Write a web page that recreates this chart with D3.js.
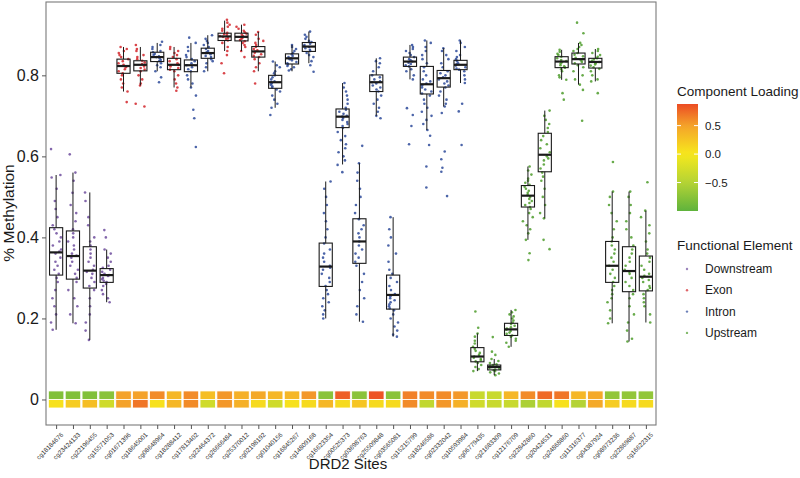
<!DOCTYPE html>
<html>
<head>
<meta charset="utf-8">
<script src="https://cdn.jsdelivr.net/npm/d3@7"></script>
<style>
  body { margin: 0; background: #fff; }
  svg { font-family: "Liberation Sans", Arial, sans-serif; }
</style>
</head>
<body>
<script>
// ---- data ----
const sites = ["cg18184676","cg23424133","cg22196455","cg15571053","cg01671396","cg18645001",
  "cg08648964","cg18288412","cg17813402","cg22464372","cg26666484","cg25370012","cg02198192",
  "cg01040156","cg16845267","cg14809168","cg16623354","cg00525373","cg03698763","cg25509848",
  "cg03565081","cg15215799","cg18246586","cg02332042","cg10593984","cg06779435","cg21683309",
  "cg12176709","cg22842860","cg20424531","cg24868860","cg11316377","cg04387924","cg08973236",
  "cg22869887","cg16622315"];

const siteElement = ["Downstream","Downstream","Downstream","Downstream","Exon","Exon",
  "Intron","Exon","Intron","Intron","Exon","Exon","Exon","Intron","Intron","Intron",
  "Intron","Intron","Intron","Intron","Intron","Intron","Intron","Intron","Intron",
  "Upstream","Upstream","Upstream","Upstream","Upstream","Upstream","Upstream","Upstream",
  "Upstream","Upstream","Upstream"];

// [lower whisker, q1, median, q3, upper whisker]
const boxStats = [
  [0.172,0.307,0.363,0.424,0.554],[0.188,0.297,0.354,0.416,0.560],[0.147,0.275,0.318,0.377,0.511],
  [0.240,0.289,0.307,0.323,0.370],[0.760,0.805,0.823,0.840,0.870],[0.775,0.811,0.826,0.836,0.870],
  [0.810,0.834,0.845,0.857,0.880],[0.770,0.814,0.826,0.842,0.870],[0.770,0.809,0.825,0.838,0.880],
  [0.810,0.842,0.855,0.867,0.899],[0.860,0.886,0.896,0.904,0.935],[0.860,0.885,0.895,0.904,0.925],
  [0.810,0.845,0.859,0.871,0.907],[0.720,0.768,0.783,0.800,0.834],[0.810,0.828,0.842,0.853,0.875],
  [0.830,0.859,0.871,0.881,0.908],[0.200,0.279,0.328,0.386,0.538],[0.580,0.671,0.698,0.717,0.781],
  [0.192,0.336,0.390,0.446,0.583],[0.700,0.760,0.783,0.801,0.842],[0.155,0.223,0.258,0.307,0.450],
  [0.790,0.822,0.834,0.845,0.875],[0.665,0.754,0.778,0.822,0.886],[0.723,0.771,0.793,0.812,0.867],
  [0.781,0.814,0.826,0.837,0.886],[0.070,0.093,0.106,0.128,0.163],[0.060,0.073,0.080,0.085,0.100],
  [0.130,0.158,0.173,0.188,0.221],[0.394,0.475,0.503,0.528,0.575],[0.447,0.562,0.604,0.657,0.713],
  [0.789,0.819,0.834,0.846,0.863],[0.777,0.828,0.840,0.855,0.880],[0.785,0.818,0.833,0.842,0.865],
  [0.188,0.289,0.330,0.390,0.513],[0.143,0.266,0.317,0.377,0.513],[0.190,0.268,0.303,0.354,0.466]
];

// methylation of individual samples (approximate reading)
const sitePoints = [
  [0.618,0.554,0.548,0.52,0.49,0.47,0.45,0.43,0.42,0.41,0.40,0.39,0.38,0.37,0.365,0.36,0.35,0.34,0.33,0.32,0.31,0.30,0.29,0.27,0.25,0.23,0.21,0.19,0.172],
  [0.605,0.56,0.54,0.51,0.48,0.46,0.44,0.42,0.41,0.40,0.39,0.38,0.37,0.36,0.355,0.35,0.34,0.33,0.32,0.31,0.30,0.29,0.27,0.25,0.23,0.21,0.188],
  [0.511,0.49,0.45,0.43,0.40,0.39,0.38,0.37,0.36,0.35,0.34,0.33,0.32,0.315,0.31,0.30,0.29,0.28,0.27,0.25,0.23,0.21,0.19,0.17,0.147],
  [0.418,0.40,0.37,0.36,0.35,0.34,0.33,0.325,0.32,0.315,0.31,0.307,0.305,0.30,0.297,0.293,0.29,0.285,0.28,0.27,0.26,0.25,0.24],
  [0.87,0.865,0.86,0.855,0.85,0.845,0.84,0.835,0.83,0.826,0.823,0.82,0.815,0.81,0.805,0.80,0.79,0.78,0.77,0.76,0.734],
  [0.875,0.865,0.86,0.85,0.845,0.84,0.836,0.832,0.828,0.826,0.822,0.818,0.814,0.81,0.80,0.79,0.78,0.775,0.73,0.723],
  [0.883,0.875,0.87,0.865,0.86,0.857,0.853,0.85,0.847,0.845,0.842,0.838,0.835,0.83,0.825,0.82,0.81,0.795,0.783],
  [0.87,0.865,0.86,0.855,0.85,0.845,0.84,0.835,0.83,0.826,0.822,0.818,0.814,0.81,0.80,0.79,0.78,0.77,0.762],
  [0.893,0.88,0.87,0.86,0.85,0.845,0.84,0.835,0.83,0.825,0.82,0.815,0.81,0.80,0.79,0.78,0.77,0.75,0.715,0.694,0.623],
  [0.899,0.89,0.885,0.88,0.875,0.87,0.865,0.86,0.857,0.855,0.852,0.848,0.845,0.84,0.835,0.83,0.82,0.81],
  [0.937,0.93,0.925,0.92,0.915,0.91,0.905,0.902,0.90,0.897,0.895,0.892,0.89,0.886,0.88,0.87,0.86,0.85,0.83,0.805],
  [0.925,0.92,0.915,0.91,0.906,0.903,0.90,0.897,0.895,0.892,0.89,0.887,0.884,0.88,0.875,0.87,0.86,0.845],
  [0.907,0.90,0.89,0.885,0.88,0.875,0.87,0.865,0.862,0.859,0.856,0.852,0.848,0.845,0.84,0.83,0.82,0.81,0.78],
  [0.834,0.825,0.82,0.81,0.805,0.80,0.795,0.79,0.785,0.783,0.78,0.777,0.773,0.77,0.765,0.76,0.75,0.74,0.73,0.72,0.702],
  [0.875,0.87,0.865,0.86,0.855,0.852,0.848,0.845,0.842,0.84,0.837,0.833,0.83,0.827,0.823,0.82,0.815,0.812],
  [0.908,0.90,0.895,0.89,0.885,0.882,0.878,0.875,0.872,0.87,0.867,0.863,0.86,0.855,0.85,0.845,0.835,0.825,0.809],
  [0.538,0.52,0.50,0.48,0.46,0.44,0.42,0.40,0.385,0.37,0.36,0.35,0.34,0.33,0.325,0.32,0.31,0.30,0.29,0.28,0.27,0.26,0.25,0.24,0.23,0.22,0.21,0.20],
  [0.781,0.77,0.76,0.75,0.74,0.73,0.72,0.715,0.71,0.705,0.70,0.698,0.695,0.69,0.685,0.68,0.675,0.67,0.66,0.65,0.64,0.63,0.62,0.61,0.60,0.59,0.579,0.561],
  [0.626,0.583,0.56,0.54,0.52,0.50,0.48,0.46,0.445,0.43,0.42,0.41,0.40,0.39,0.38,0.37,0.36,0.35,0.34,0.33,0.31,0.29,0.27,0.25,0.23,0.21,0.192],
  [0.842,0.835,0.83,0.82,0.81,0.80,0.795,0.79,0.785,0.783,0.78,0.775,0.77,0.765,0.76,0.75,0.74,0.73,0.72,0.71,0.70,0.694],
  [0.45,0.42,0.40,0.38,0.36,0.34,0.32,0.31,0.30,0.29,0.28,0.27,0.26,0.255,0.25,0.245,0.24,0.235,0.23,0.225,0.22,0.21,0.20,0.19,0.18,0.17,0.16,0.155],
  [0.875,0.87,0.865,0.86,0.855,0.85,0.845,0.84,0.837,0.834,0.831,0.828,0.825,0.822,0.815,0.81,0.80,0.79,0.719,0.702,0.675,0.63],
  [0.886,0.88,0.87,0.86,0.85,0.84,0.83,0.82,0.81,0.80,0.79,0.785,0.78,0.775,0.77,0.765,0.76,0.755,0.75,0.74,0.73,0.72,0.71,0.70,0.69,0.68,0.665,0.651,0.628,0.575,0.523],
  [0.867,0.86,0.85,0.84,0.83,0.82,0.81,0.805,0.80,0.795,0.79,0.785,0.78,0.775,0.77,0.76,0.75,0.74,0.73,0.723,0.707,0.612,0.593,0.572,0.562,0.502],
  [0.886,0.88,0.87,0.86,0.85,0.845,0.84,0.835,0.83,0.827,0.824,0.82,0.817,0.814,0.81,0.80,0.79,0.781,0.73,0.711,0.628],
  [0.217,0.177,0.163,0.155,0.145,0.138,0.13,0.125,0.12,0.115,0.11,0.106,0.103,0.10,0.097,0.094,0.09,0.085,0.08,0.075,0.07],
  [0.154,0.118,0.11,0.10,0.095,0.09,0.087,0.085,0.083,0.081,0.08,0.078,0.076,0.074,0.072,0.07,0.067,0.064,0.06],
  [0.221,0.215,0.21,0.205,0.20,0.195,0.19,0.186,0.182,0.178,0.175,0.172,0.169,0.165,0.162,0.158,0.155,0.15,0.145,0.14,0.13],
  [0.575,0.565,0.555,0.545,0.54,0.535,0.53,0.525,0.52,0.515,0.51,0.505,0.50,0.495,0.49,0.485,0.48,0.475,0.47,0.46,0.45,0.44,0.43,0.42,0.41,0.394,0.361,0.344],
  [0.713,0.70,0.69,0.68,0.67,0.66,0.65,0.64,0.63,0.62,0.61,0.60,0.595,0.59,0.58,0.57,0.56,0.55,0.54,0.52,0.50,0.48,0.46,0.447,0.394,0.371],
  [0.863,0.858,0.853,0.85,0.846,0.842,0.838,0.835,0.832,0.829,0.825,0.822,0.819,0.815,0.81,0.80,0.795,0.789,0.756,0.74],
  [0.93,0.904,0.88,0.875,0.87,0.865,0.86,0.855,0.851,0.847,0.843,0.84,0.837,0.833,0.83,0.825,0.82,0.81,0.80,0.79,0.777,0.764,0.688],
  [0.865,0.86,0.855,0.85,0.846,0.842,0.839,0.836,0.833,0.83,0.827,0.824,0.82,0.816,0.81,0.80,0.79,0.785,0.756],
  [0.586,0.513,0.50,0.48,0.46,0.44,0.42,0.40,0.39,0.38,0.37,0.36,0.35,0.34,0.33,0.32,0.31,0.30,0.29,0.28,0.27,0.26,0.25,0.24,0.22,0.20,0.188],
  [0.513,0.50,0.48,0.46,0.44,0.42,0.40,0.38,0.37,0.36,0.35,0.34,0.33,0.32,0.315,0.31,0.30,0.29,0.28,0.27,0.26,0.25,0.23,0.21,0.19,0.17,0.15,0.143],
  [0.536,0.466,0.45,0.43,0.41,0.39,0.37,0.36,0.35,0.34,0.33,0.32,0.31,0.305,0.30,0.295,0.29,0.28,0.275,0.27,0.26,0.25,0.24,0.23,0.21,0.19]
];

// component loadings (top row / bottom row of the strip)
const loading1 = [-0.8,-0.8,-0.8,-0.75,0.5,0.5,0.6,0.35,0.6,0.3,0.55,0.4,0.45,0.35,0.35,0.55,-0.75,0.8,
  -0.75,0.85,-0.75,0.65,0.6,0.6,0.55,-0.35,-0.35,0.35,0.6,0.75,0.7,0.35,0.45,-0.7,-0.7,-0.7];
const loading2 = [0.05,0.2,0.3,-0.3,0.5,0.7,0.05,0.35,0.6,-0.3,0.55,0.4,0.1,-0.3,0.05,0.1,0.35,0.1,
  0.25,0.1,0.1,0.6,-0.4,0.55,0.4,-0.3,-0.35,-0.35,-0.55,-0.4,0.05,-0.5,0.45,0.2,0.1,0.1];

const yTicks = [0, 0.2, 0.4, 0.6, 0.8];
const yTickLabels = ["0", "0.2", "0.4", "0.6", "0.8"];
const elementNames = ["Downstream", "Exon", "Intron", "Upstream"];
const elementColors = ["#6f4e9e", "#d2242a", "#2d4a9a", "#4e9c2c"];
const loadingTicks = [0.5, 0, -0.5];
const loadingTickLabels = ["0.5", "0.0", "\u22120.5"];

// ---- drawing ----
const W = 800, H = 478;
const P = {left: 46, right: 656, top: 2, bottom: 425};

const svg = d3.select("body").append("svg").attr("width", W).attr("height", H);

const x = d3.scalePoint().domain(sites).range([P.left, P.right]).padding(0.6);
const step = x.step();
const y = d3.scaleLinear().domain([-0.063, 0.981]).range([P.bottom, P.top]);

const color = d3.scaleOrdinal().domain(elementNames).range(elementColors);
const fillScale = d3.scaleLinear()
  .domain([-1, -0.5, 0, 0.5, 0.88])
  .range(["#5fb33c", "#b4d335", "#f7e81c", "#f4a22a", "#ec4c24"]);

// loading strip
const strip = svg.append("g");
sites.forEach((s, i) => {
  [[loading1[i], 0.021, 0], [loading2[i], 0, -0.021]].forEach(([v, hi, lo]) => {
    strip.append("rect")
      .attr("x", x(s) - step * 0.46)
      .attr("width", step * 0.92)
      .attr("y", y(hi))
      .attr("height", y(lo) - y(hi))
      .attr("fill", fillScale(v))
      .attr("stroke", "#fff")
      .attr("stroke-width", 0.8);
  });
});

// jittered sample points (deterministic jitter)
function jit(i, k) {
  const t = Math.sin(i * 12.9898 + k * 78.233) * 43758.5453;
  return t - Math.floor(t) - 0.5;
}
const pts = svg.append("g");
sites.forEach((s, k) => {
  sitePoints[k].forEach((v, i) => {
    pts.append("circle")
      .attr("cx", x(s) + jit(i, k) * step * 0.6)
      .attr("cy", y(v))
      .attr("r", 1.3)
      .attr("fill", color(siteElement[k]))
      .attr("fill-opacity", 0.85);
  });
});

// boxplots
const bw = step * 0.78;
const boxes = svg.append("g").attr("stroke", "#1a1a1a").attr("fill", "none");
sites.forEach((s, k) => {
  const [lo, q1, med, q3, hi] = boxStats[k];
  const cx = x(s);
  boxes.append("line").attr("x1", cx).attr("x2", cx).attr("y1", y(q3)).attr("y2", y(hi)).attr("stroke-width", 1);
  boxes.append("line").attr("x1", cx).attr("x2", cx).attr("y1", y(q1)).attr("y2", y(lo)).attr("stroke-width", 1);
  boxes.append("rect").attr("x", cx - bw / 2).attr("width", bw)
    .attr("y", y(q3)).attr("height", y(q1) - y(q3)).attr("stroke-width", 1.1);
  boxes.append("line").attr("x1", cx - bw / 2).attr("x2", cx + bw / 2)
    .attr("y1", y(med)).attr("y2", y(med)).attr("stroke-width", 2.2);
});

// panel border
svg.append("rect")
  .attr("x", P.left).attr("y", P.top)
  .attr("width", P.right - P.left).attr("height", P.bottom - P.top)
  .attr("fill", "none").attr("stroke", "#7a7a7a").attr("stroke-width", 1.1);

// axes
const yAxis = svg.append("g").attr("transform", `translate(${P.left},0)`)
  .call(d3.axisLeft(y).tickValues(yTicks).tickFormat((d, i) => yTickLabels[i]).tickSize(4).tickPadding(3));
yAxis.select(".domain").remove();
yAxis.selectAll("line").attr("stroke", "#555");
yAxis.selectAll("text").attr("font-size", 16).attr("fill", "#1a1a1a")
  .attr("font-family", "Liberation Sans, Arial, sans-serif");

const xAxis = svg.append("g").attr("transform", `translate(0,${P.bottom})`)
  .call(d3.axisBottom(x).tickSize(4).tickPadding(2));
xAxis.select(".domain").remove();
xAxis.selectAll("line").attr("stroke", "#555");
xAxis.selectAll("text")
  .attr("font-size", 6.4).attr("fill", "#333")
  .attr("font-family", "Liberation Sans, Arial, sans-serif")
  .attr("text-anchor", "end")
  .attr("dy", 0)
  .attr("transform", "translate(3,6) rotate(-45)");

// axis titles
svg.append("text").attr("x", 348).attr("y", 469).attr("text-anchor", "middle")
  .attr("font-size", 15).attr("fill", "#1a1a1a").text("DRD2 Sites");
svg.append("text").attr("transform", "translate(14,213) rotate(-90)").attr("text-anchor", "middle")
  .attr("font-size", 15.5).attr("fill", "#1a1a1a").text("% Methylation");

// colourbar legend
const lg = svg.append("g");
lg.append("text").attr("x", 677).attr("y", 96).attr("font-size", 13.5).attr("fill", "#1a1a1a")
  .text("Component Loading");
const barTop = 104, barBot = 211, barX = 677, barW = 21;
const lScale = d3.scaleLinear().domain([0.88, -1]).range([barTop, barBot]);
const grad = svg.append("defs").append("linearGradient").attr("id", "lg")
  .attr("x1", 0).attr("y1", 0).attr("x2", 0).attr("y2", 1);
d3.range(0, 21).forEach(i => {
  const v = 0.88 - i / 20 * 1.88;
  grad.append("stop").attr("offset", i / 20).attr("stop-color", fillScale(v));
});
lg.append("rect").attr("x", barX).attr("y", barTop).attr("width", barW).attr("height", barBot - barTop)
  .attr("fill", "url(#lg)");
loadingTicks.forEach((t, i) => {
  const ty = lScale(t);
  lg.append("line").attr("x1", barX).attr("x2", barX + 4).attr("y1", ty).attr("y2", ty).attr("stroke", "#fff");
  lg.append("line").attr("x1", barX + barW - 4).attr("x2", barX + barW).attr("y1", ty).attr("y2", ty).attr("stroke", "#fff");
  lg.append("text").attr("x", 705).attr("y", ty + 4).attr("font-size", 11.5).attr("fill", "#1a1a1a")
    .text(loadingTickLabels[i]);
});

// functional element legend
lg.append("text").attr("x", 677).attr("y", 250).attr("font-size", 13.5).attr("fill", "#1a1a1a")
  .text("Functional Element");
elementNames.forEach((n, i) => {
  const ly = 269 + i * 21.3;
  lg.append("circle").attr("cx", 687).attr("cy", ly).attr("r", 1.2)
    .attr("fill", elementColors[i]).attr("fill-opacity", 0.7);
  lg.append("text").attr("x", 705).attr("y", ly + 4).attr("font-size", 12).attr("fill", "#1a1a1a").text(n);
});
</script>
</body>
</html>
